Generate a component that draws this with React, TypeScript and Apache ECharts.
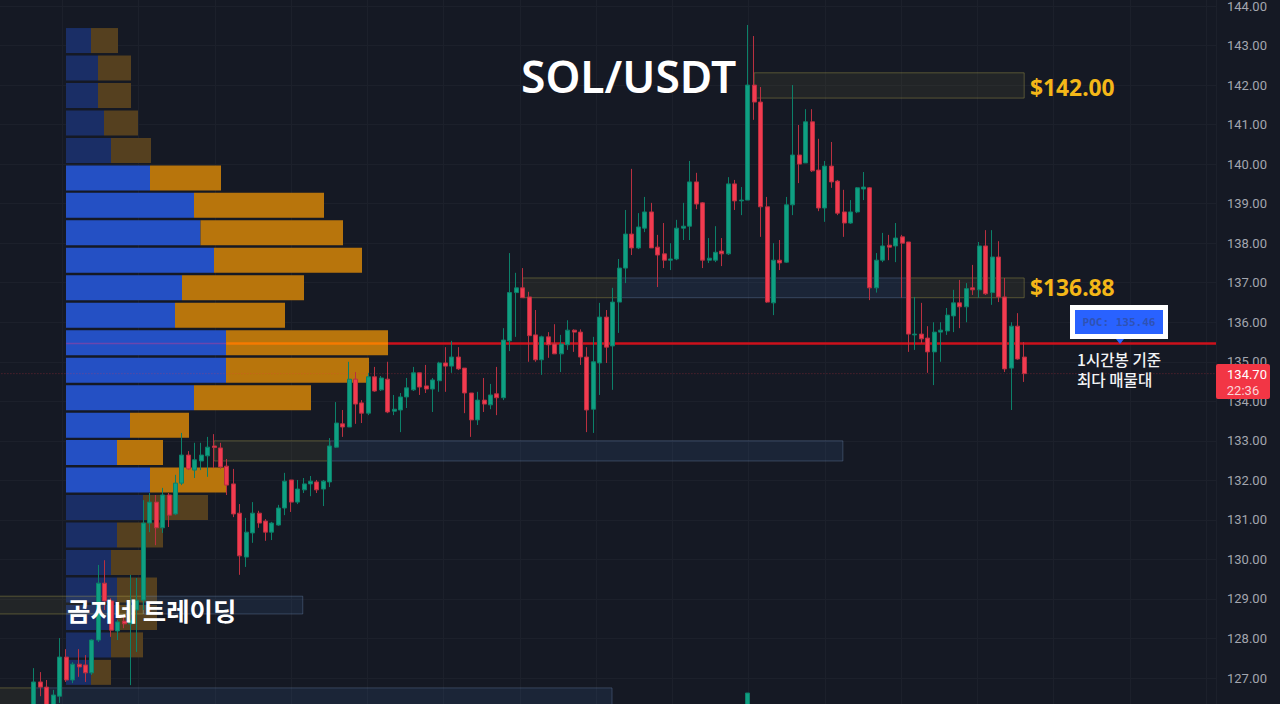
import React, { useEffect, useRef } from 'react';
import * as echarts from 'echarts';

const opens = [126.14,126.9,126.77,126.09,126.54,127.53,126.95,127.35,127.33,127.13,127.96,129.4,128.95,128.19,128.44,128.37,128.72,128.97,130.92,131.45,130.8,131.63,131.15,131.93,132.64,132.26,132.49,132.62,132.87,132.82,132.36,131.91,131.17,130.06,130.67,131.17,130.97,130.69,130.87,131.3,132.01,131.45,131.76,131.91,131.96,131.78,131.96,132.84,133.43,133.35,134.56,133.96,133.7,134.62,134.29,134.56,133.75,133.78,134.11,134.29,134.72,134.39,134.31,134.52,134.97,134.89,135.12,134.84,134.21,133.53,134.03,133.91,134.19,134.09,135.53,136.75,136.87,136.64,135.68,135.05,135.63,135.45,135.2,135.43,135.8,135.75,135.12,133.8,134.97,136.13,135.4,136.51,137.37,138.23,137.88,138.38,138.79,137.9,137.73,137.57,137.6,138.38,138.43,139.55,139.02,137.57,137.57,137.8,137.73,139.5,139.07,139.09,142,141.57,138.92,136.49,137.57,137.52,138.97,140.23,140.03,141.07,139.85,138.89,139.95,139.57,138.79,138.51,138.79,139.37,139.4,136.87,137.57,137.95,137.93,138.16,138.03,135.68,135.7,135.6,135.25,135.75,135.78,136.16,136.49,136.39,136.87,136.82,137.93,136.75,137.65,136.64,134.84,135.9,135.12];
const closes = [126.9,126.77,126.14,126.57,127.53,126.95,127.35,127.28,127.13,127.96,129.4,128.95,128.21,128.42,128.37,128.47,128.97,130.92,131.45,130.8,131.63,131.12,131.93,132.64,132.29,132.52,132.64,132.84,132.83,132.34,131.88,131.15,130.09,130.69,131.17,130.92,130.69,130.92,131.3,131.98,131.45,131.78,131.91,131.98,131.76,131.98,132.87,133.45,133.35,134.56,133.93,133.7,134.62,134.26,134.59,133.73,133.8,134.11,134.34,134.72,134.36,134.31,134.54,134.97,134.89,135.12,134.82,134.21,133.53,134.03,133.93,134.16,134.09,135.55,136.75,136.87,136.62,135.66,135.05,135.63,135.43,135.2,135.45,135.8,135.75,135.12,133.78,135,136.13,135.37,136.51,137.37,138.23,137.88,138.41,138.79,137.88,137.7,137.57,137.6,138.38,138.43,139.55,138.99,137.57,137.62,137.77,137.73,139.5,139.07,139.09,142,141.57,138.92,136.51,137.57,137.5,138.97,140.23,140,141.07,139.83,138.89,139.95,139.55,138.76,138.51,138.79,139.4,139.42,136.87,137.57,137.93,137.9,138.13,138,135.7,135.7,135.58,135.25,135.75,135.8,136.18,136.49,136.39,136.85,136.82,137.93,136.72,137.65,136.64,134.82,135.9,135.07,134.7];
const lows = [126.02,126.54,126.05,126.02,126.37,126.9,126.87,127.03,126.9,127.08,127.91,128.72,128.04,127.96,128.26,126.82,127.66,128.72,130.69,130.36,130.67,130.82,131.12,131.88,132.26,132.06,132.26,132.09,132.31,132.29,131.63,131.07,129.61,129.81,130.42,130.8,130.47,130.49,130.85,131.12,131.2,131.4,131.68,131.6,131.68,131.35,131.83,132.82,133.1,133.35,133.43,133.45,133.65,134.24,134.26,133.7,133.65,133.22,133.83,134.26,134.16,134.21,133.73,134.24,134.24,134.72,134.79,133.7,133.1,133.4,133.73,133.8,133.65,134.03,135.27,135.63,136.62,135,135,134.67,135.1,135.2,134.74,135.3,135.25,134.92,133.22,133.2,134.16,134.97,134.29,135.73,136.99,137.7,137.85,138.28,137.88,136.89,137.37,137.32,137.57,138.08,138.08,138.86,137.37,137.5,137.52,137.42,137.7,138.84,138.71,139.09,141.12,138.16,136.49,136.18,137.32,137.5,138.71,139.52,140.03,139.8,138.81,138.54,139.4,138.71,138.16,138.49,138.76,139.09,136.56,136.75,137.52,137.57,137.52,136.62,135.25,135.3,135.47,134.72,134.41,135,135.68,135.75,135.85,136,136.69,136.62,136.69,136.44,136.51,134.74,133.78,135.05,134.49];
const highs = [127.25,127.15,126.95,126.7,128.01,127.73,127.4,127.73,127.58,127.98,129.86,129.98,129.02,128.47,128.54,129.61,129.53,131.5,131.68,131.63,131.81,131.68,132.14,133.2,132.74,132.95,132.95,133.1,133.17,132.95,132.54,132.29,131.4,131.05,131.45,131.23,131.02,130.95,131.38,132.19,132.01,132.01,132.06,132.11,132.01,132.01,133.07,133.98,133.78,135,134.74,134.03,134.72,134.87,134.64,135,134.16,134.21,134.59,134.87,134.72,134.92,134.59,135,135.37,135.53,135.37,134.84,134.21,134.24,134.59,134.44,134.87,135.85,137.75,137.25,137.37,136.77,136.31,135.66,135.75,135.95,135.68,136.05,135.82,135.82,135.37,135.63,136.49,136.31,136.87,137.6,138.84,139.88,138.76,139.17,139.02,138.21,138.51,138,138.59,139.02,140.08,139.78,139.04,138.13,138.43,138.13,139.67,139.6,139.42,143.52,143.24,141.95,139.17,138,138.08,139.17,142,140.99,141.39,141.39,140.64,140.08,140.56,139.6,139.35,139.09,139.42,139.8,139.42,137.75,138.26,138.21,138.51,138.21,138.03,136.64,136.49,135.9,136,136,136.36,136.82,137.07,136.99,137.45,138.03,138.33,138.33,138.05,137.12,136,136.23,135.5];

// lone green block poking up from the bottom edge
const strayCandle = [111, 125.9, 126.62, 125.9, 126.62];

// volume profile rows, top to bottom
const buyVolume = [25,32,32,38,45,84,128,134.5,148,116,109,160,160,128,64,51,84,77,51,45,51,51,45,25];
const sellVolume = [27,33,33,34,40,71,130,142.5,148,122,110,162,143,117,59,46,77,65,46,32,40,40,32,20];
const brightRows = [5,6,7,8,9,10,11,12,13,14,15,16];

const priceMin = 126;
const priceMax = 145;
const pocPrice = 135.46;
const lastPrice = 134.7;

// zones: first candle, last candle, top price, bottom price
const yellowZones = [
  [112, 154, 142.31, 141.67],
  [76, 91, 137.12, 136.62],
  [136, 154, 137.12, 136.62],
  [28, 46, 133.0, 132.49],
  [-6, 17, 129.07, 128.62],
  [-6, 0, 126.75, 125.9],
];
const blueZones = [
  [91, 136, 137.12, 136.62],
  [46, 125.8, 133.0, 132.49],
  [17, 41.8, 129.07, 128.62],
  [0, 89.9, 126.75, 125.9],
];
// POC line looks different where it crosses the profile bars
const pocSegments = [
  { from: 5, to: 29.9, color: '#6A46AE', width: 1.5 },
  { from: 29.9, to: 55.1, color: '#F57A00', width: 2.5 },
  { from: 55.1, to: 183.83, color: '#CC111B', width: 2.5 },
];

const BG = '#151924';
const GRID_LINE = '#1C202B';
const UP = '#0F9F82';
const DOWN = '#F23B50';
const STEP = 6.43;

const zoneRender = (fill: string, stroke: string) => (_: any, api: any) => {
  const a = api.coord([api.value(0), api.value(2)]);
  const b = api.coord([api.value(1), api.value(3)]);
  return {
    type: 'rect',
    shape: { x: a[0], y: a[1], width: b[0] - a[0], height: b[1] - a[1] },
    style: { fill, stroke, lineWidth: 1 },
  };
};

const App: React.FC = () => {
  const chartRef = useRef<HTMLDivElement>(null);

  useEffect(() => {
    document.body.style.margin = '0';
    document.body.style.background = BG;
    if (!chartRef.current) return;
    const chart = echarts.init(chartRef.current, undefined, { renderer: 'svg' });

    const pxPerPrice = 39.53;
    const gridTop = 6 - (priceMax - 144) * pxPerPrice;
    const gridHeight = (priceMax - priceMin) * pxPerPrice;
    const candleLeft = 34 - 6 * STEP;

    const option: any = {
      animation: false,
      backgroundColor: BG,
      grid: [
        { left: candleLeft, top: gridTop, width: 1216 - candleLeft, height: gridHeight, outerBoundsMode: 'none' },
        { left: 66, top: 26.8, width: 400, height: 659.3, outerBoundsMode: 'none' },
        { left: -14, top: 0, width: 1230, height: 704, outerBoundsMode: 'none' },
      ],
      xAxis: [
        { type: 'value', gridIndex: 0, min: -6, max: 183.83, show: false },
        { type: 'value', gridIndex: 1, min: 0, max: 400, show: false },
        {
          type: 'value',
          gridIndex: 2,
          min: 0,
          max: 1230,
          interval: 76.25,
          axisLine: { show: false },
          axisTick: { show: false },
          axisLabel: { show: false },
          splitLine: { show: true, lineStyle: { color: GRID_LINE, width: 1 } },
        },
      ],
      yAxis: [
        {
          type: 'value',
          gridIndex: 0,
          position: 'right',
          min: priceMin,
          max: priceMax,
          interval: 1,
          axisLine: { show: false },
          axisTick: { show: false },
          axisLabel: {
            color: '#A3A6AF',
            fontFamily: 'Roboto',
            fontSize: 13,
            margin: 11,
            // 126 and 145 sit outside the visible window
            formatter: (v: number) => (v === priceMin || v === priceMax ? '' : v.toFixed(2)),
          },
          splitLine: { show: true, lineStyle: { color: GRID_LINE, width: 1 } },
        },
        {
          type: 'category',
          gridIndex: 1,
          inverse: true,
          data: buyVolume.map((_, i) => String(i)),
          show: false,
        },
        { type: 'value', gridIndex: 2, min: 0, max: 1, show: false },
      ],
      series: [
        {
          type: 'custom',
          xAxisIndex: 2,
          yAxisIndex: 2,
          data: [],
          renderItem: () => null,
          silent: true,
        },
        {
          name: 'buy',
          type: 'bar',
          xAxisIndex: 1,
          yAxisIndex: 1,
          stack: 'profile',
          barWidth: 25,
          z: 1,
          data: buyVolume.map((value, i) => ({
            value,
            itemStyle: { color: brightRows.includes(i) ? '#2450C4' : '#1A2E66' },
          })),
        },
        {
          name: 'sell',
          type: 'bar',
          xAxisIndex: 1,
          yAxisIndex: 1,
          stack: 'profile',
          barWidth: 25,
          z: 1,
          data: sellVolume.map((value, i) => ({
            value,
            itemStyle: { color: brightRows.includes(i) ? '#B8750C' : '#55401F' },
          })),
        },
        {
          type: 'custom',
          xAxisIndex: 0,
          yAxisIndex: 0,
          z: 2,
          silent: true,
          encode: { x: [0, 1], y: [2, 3] },
          data: yellowZones,
          renderItem: zoneRender('rgba(190,180,80,0.08)', 'rgba(190,180,80,0.36)'),
        },
        {
          type: 'custom',
          xAxisIndex: 0,
          yAxisIndex: 0,
          z: 2,
          silent: true,
          encode: { x: [0, 1], y: [2, 3] },
          data: blueZones,
          renderItem: zoneRender('rgba(70,110,170,0.15)', 'rgba(130,160,205,0.30)'),
        },
        {
          type: 'line',
          xAxisIndex: 0,
          yAxisIndex: 0,
          z: 3,
          silent: true,
          showSymbol: false,
          data: [[-6, lastPrice], [183.83, lastPrice]],
          lineStyle: { color: 'rgba(242,54,69,0.38)', width: 1, type: [1, 2] },
        },
        ...pocSegments.map((seg) => ({
          type: 'line',
          xAxisIndex: 0,
          yAxisIndex: 0,
          z: 3,
          silent: true,
          showSymbol: false,
          data: [[seg.from, pocPrice], [seg.to, pocPrice]],
          lineStyle: { color: seg.color, width: seg.width },
        })),
        {
          type: 'candlestick',
          xAxisIndex: 0,
          yAxisIndex: 0,
          z: 4,
          barWidth: 4.5,
          encode: { x: 0, y: [1, 2, 3, 4] },
          data: opens.map((o, i) => [i, o, closes[i], lows[i], highs[i]]),
          itemStyle: {
            color: UP,
            color0: DOWN,
            borderColor: '#0C8069',
            borderColor0: '#B93040',
            borderWidth: 1,
          },
        },
        {
          type: 'candlestick',
          xAxisIndex: 0,
          yAxisIndex: 0,
          z: 4,
          barWidth: 5,
          encode: { x: 0, y: [1, 2, 3, 4] },
          data: [strayCandle],
          itemStyle: { color: UP, borderColor: '#0C8069', borderWidth: 1 },
        },
      ],
      graphic: [
        {
          type: 'text',
          x: 521,
          y: 76,
          z: 10,
          style: { text: 'SOL/USDT', fill: '#FFFFFF', font: '600 44.4px "Noto Sans"', textVerticalAlign: 'middle' },
        },
        {
          type: 'text',
          x: 1030,
          y: 87,
          z: 10,
          style: { text: '$142.00', fill: '#F4B718', font: '700 22.8px "Noto Sans"', textVerticalAlign: 'middle' },
        },
        {
          type: 'text',
          x: 1030,
          y: 287,
          z: 10,
          style: { text: '$136.88', fill: '#F4B718', font: '700 22.8px "Noto Sans"', textVerticalAlign: 'middle' },
        },
        {
          type: 'text',
          x: 67,
          y: 610,
          z: 10,
          style: { text: '곰지네 트레이딩', fill: '#FFFFFF', font: '700 25.4px "Noto Sans CJK KR"', textVerticalAlign: 'middle' },
        },
        { type: 'rect', x: 1070, y: 305, z: 10, shape: { width: 98, height: 34 }, style: { fill: '#FFFFFF' } },
        { type: 'rect', x: 1075, y: 310, z: 10, shape: { width: 88, height: 24 }, style: { fill: '#2962FF' } },
        {
          type: 'polygon',
          z: 10,
          shape: { points: [[1116, 339], [1124, 339], [1120, 344]] },
          style: { fill: '#2962FF' },
        },
        {
          type: 'text',
          x: 1119,
          y: 322,
          z: 11,
          style: {
            text: 'POC: 135.46',
            fill: '#2F52B4',
            font: '700 11px "DejaVu Sans Mono"',
            textAlign: 'center',
            textVerticalAlign: 'middle',
          },
        },
        {
          type: 'text',
          x: 1077,
          y: 359,
          z: 10,
          style: { text: '1시간봉 기준', fill: '#F2F3F5', font: '500 15.6px "Noto Sans CJK KR"', textVerticalAlign: 'middle' },
        },
        {
          type: 'text',
          x: 1077,
          y: 379,
          z: 10,
          style: { text: '최다 매물대', fill: '#F2F3F5', font: '500 15.6px "Noto Sans CJK KR"', textVerticalAlign: 'middle' },
        },
        { type: 'rect', x: 1216, y: 364, z: 10, shape: { width: 54, height: 35, r: 2 }, style: { fill: '#F23645' } },
        {
          type: 'text',
          x: 1247,
          y: 374,
          z: 11,
          style: { text: '134.70', fill: '#FFFFFF', font: '13px Roboto', textAlign: 'center', textVerticalAlign: 'middle' },
        },
        {
          type: 'text',
          x: 1243,
          y: 390,
          z: 11,
          style: { text: '22:36', fill: '#FBD5D9', font: '13px Roboto', textAlign: 'center', textVerticalAlign: 'middle' },
        },
      ],
    };

    chart.setOption(option);

    return () => {
      chart.dispose();
    };
  }, []);

  return <div ref={chartRef} style={{ position: 'fixed', left: 0, top: 0, width: 1280, height: 704 }} />;
};

export default App;
